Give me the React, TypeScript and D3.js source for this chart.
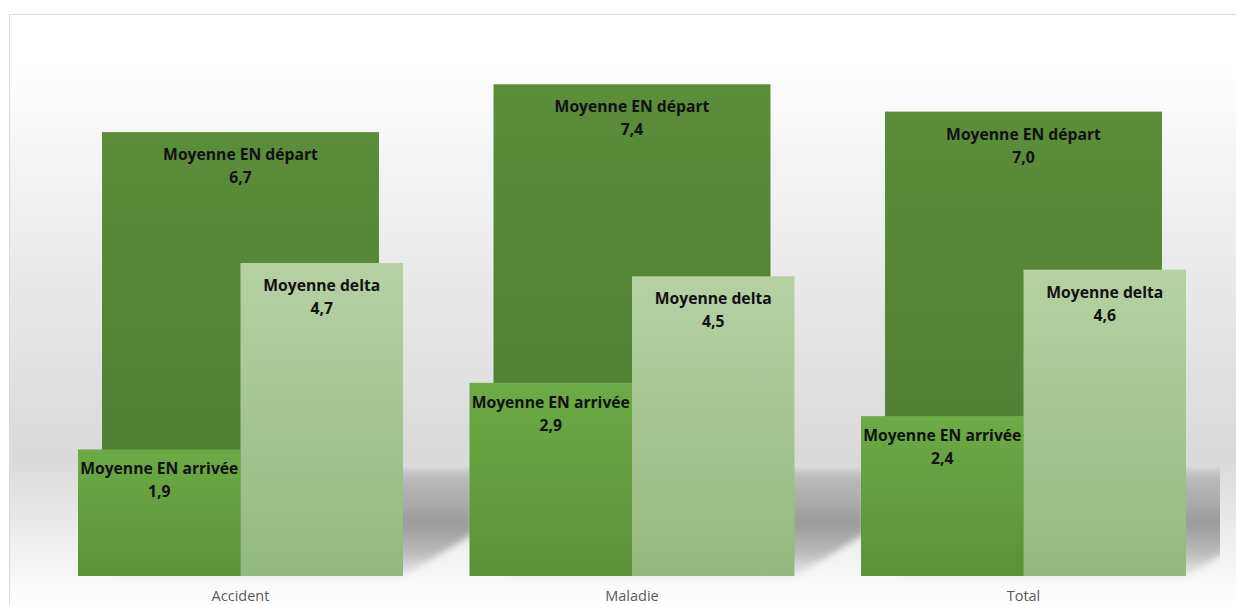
import React from "react";
import * as d3 from "d3";

const categories = ["Accident", "Maladie", "Total"];
const departValues = [6.7, 7.4, 7.0];
const arriveeValues = [1.9, 2.9, 2.4];
const deltaValues = [4.7, 4.5, 4.6];
const seriesNames = {
  depart: "Moyenne EN départ",
  arrivee: "Moyenne EN arrivée",
  delta: "Moyenne delta",
};

const W = 1236;
const H = 605;

const fmt = (v: number) => d3.format(".1f")(v).replace(".", ",");

export default function App() {
  const x = d3.scaleBand<string>().domain(categories).range([44.75, 1219.25]).paddingInner(0).paddingOuter(0);
  const frontWidth = 325;
  const backWidth = 277;
  const xFront = d3.scaleBand<string>().domain(["arrivee", "delta"]).range([-frontWidth / 2, frontWidth / 2]);
  // front row scale
  const y = d3.scaleLinear().domain([0, 8]).range([576, 576 - 8 * 66.6]);
  // back row scale (3D perspective row)
  const yBack = d3.scaleLinear().domain([0, 8]).range([589.7, 589.7 - 8 * 68.3]);

  const labelFont = "'Open Sans', Lato, sans-serif";
  const axisFont = "'Open Sans', Lato, sans-serif";

  const renderLabel = (cx: number, top: number, name: string, v: number, key: string) => (
    <g key={key} fontFamily={labelFont} fontWeight={700} fontSize={15.7} fill="#111" textAnchor="middle">
      <text x={cx} y={top + 28}>{name}</text>
      <text x={cx} y={top + 51}>{fmt(v)}</text>
    </g>
  );

  return (
    <svg width={W} height={H} style={{ position: "absolute", left: 0, top: 0, display: "block" }}>
      <defs>
        <linearGradient id="bg" gradientUnits="userSpaceOnUse" x1={0} y1={14} x2={0} y2={605}>
          <stop offset={0} stopColor="#ffffff" />
          <stop offset={0.08} stopColor="#ffffff" />
          <stop offset={0.3} stopColor="#f1f1f1" />
          <stop offset={0.75} stopColor="#d9d9d9" />
          <stop offset={0.95} stopColor="#f7f7f7" />
          <stop offset={1} stopColor="#ffffff" />
        </linearGradient>
        <linearGradient id="shadow" gradientUnits="userSpaceOnUse" x1={0} y1={465} x2={0} y2={580}>
          <stop offset={0} stopColor="#c9c9c9" />
          <stop offset={0.15} stopColor="#b6b6b6" />
          <stop offset={0.35} stopColor="#a9a9a9" />
          <stop offset={0.5} stopColor="#9b9b9b" />
          <stop offset={0.75} stopColor="#b8b8b8" />
          <stop offset={1} stopColor="#f4f4f4" />
        </linearGradient>
        <linearGradient id="gDepart" x1={0} y1={0} x2={0} y2={1}>
          <stop offset={0} stopColor="#5b8d3a" />
          <stop offset={1} stopColor="#4d7a2f" />
        </linearGradient>
        <linearGradient id="gArrivee" x1={0} y1={0} x2={0} y2={1}>
          <stop offset={0} stopColor="#6cab45" />
          <stop offset={1} stopColor="#5b9138" />
        </linearGradient>
        <linearGradient id="gDelta" x1={0} y1={0} x2={0} y2={1}>
          <stop offset={0} stopColor="#b5d1a4" />
          <stop offset={1} stopColor="#93b97e" />
        </linearGradient>
        <filter id="blur" x="-10%" y="-10%" width="120%" height="120%">
          <feGaussianBlur stdDeviation={3} />
        </filter>
        <clipPath id="plotClip">
          <rect x={10} y={14} width={1210} height={591} />
        </clipPath>
      </defs>

      <rect x={9.5} y={14.5} width={1240} height={600} fill="url(#bg)" stroke="#d9d9d9" strokeWidth={1} />

      {/* floor shadows */}
      <g clipPath="url(#plotClip)">
        <g filter="url(#blur)">
          {categories.map((c) => {
            const cx = (x(c) as number) + x.bandwidth() / 2;
            const l = cx - frontWidth / 2 + 40;
            const r = cx + frontWidth / 2;
            const pts = [
              [l, 470],
              [r + 70, 470],
              [r + 70, 534],
              [r, 576],
              [l, 576],
            ];
            return <polygon key={c} points={pts.map((p) => p.join(",")).join(" ")} fill="url(#shadow)" />;
          })}
        </g>
      </g>

      {/* back row: départ (base hidden behind the front row) */}
      {categories.map((c, i) => {
        const cx = (x(c) as number) + x.bandwidth() / 2;
        const top = yBack(departValues[i]);
        return (
          <rect
            key={"d" + c}
            x={cx - backWidth / 2}
            y={top}
            width={backWidth}
            height={y(0) - top}
            fill="url(#gDepart)"
          />
        );
      })}

      {/* front row */}
      {categories.map((c, i) => {
        const cx = (x(c) as number) + x.bandwidth() / 2;
        return (
          <g key={"f" + c}>
            <rect
              x={cx + (xFront("arrivee") as number)}
              y={y(arriveeValues[i])}
              width={xFront.bandwidth()}
              height={y(0) - y(arriveeValues[i])}
              fill="url(#gArrivee)"
            />
            <rect
              x={cx + (xFront("delta") as number)}
              y={y(deltaValues[i])}
              width={xFront.bandwidth()}
              height={y(0) - y(deltaValues[i])}
              fill="url(#gDelta)"
            />
          </g>
        );
      })}

      {/* labels */}
      {categories.map((c, i) => {
        const cx = (x(c) as number) + x.bandwidth() / 2;
        const ax = cx + (xFront("arrivee") as number) + xFront.bandwidth() / 2;
        const dx = cx + (xFront("delta") as number) + xFront.bandwidth() / 2;
        return (
          <g key={"l" + c}>
            {renderLabel(cx, yBack(departValues[i]), seriesNames.depart, departValues[i], "ld")}
            {renderLabel(ax, y(arriveeValues[i]) - 3, seriesNames.arrivee, arriveeValues[i], "la")}
            {renderLabel(dx, y(deltaValues[i]), seriesNames.delta, deltaValues[i], "lde")}
          </g>
        );
      })}

      {/* category axis labels */}
      {categories.map((c) => (
        <text
          key={"c" + c}
          x={(x(c) as number) + x.bandwidth() / 2}
          y={601}
          textAnchor="middle"
          fontFamily={axisFont}
          fontSize={14.5}
          fill="#595959"
        >
          {c}
        </text>
      ))}
    </svg>
  );
}
